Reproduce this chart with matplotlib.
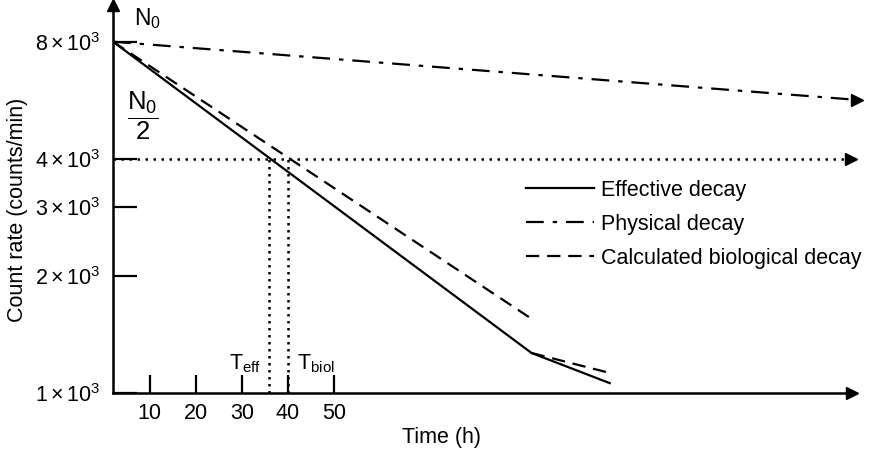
import matplotlib
matplotlib.use("Agg")
from matplotlib import pyplot as plt

plt.rcParams["font.family"] = ["Liberation Sans", "DejaVu Sans"]
plt.rcParams["mathtext.fontset"] = "custom"
plt.rcParams["mathtext.rm"] = "Liberation Sans"
plt.rcParams["mathtext.it"] = "Liberation Sans"

# data (time in h, count rate in counts/min)
effective_t = [2, 93, 110]
effective_n = [8000, 1267, 1060]

biological_t = [2, 92.4]
biological_n = [8000, 1568]
biological_tail_t = [93, 110]
biological_tail_n = [1267, 1126]

physical_t = [2, 163.7]
physical_n = [8000, 5670]

half_t = [2, 162.5]
half_n = [4000, 4000]

t_eff = 36
t_biol = 40

x_ticks = [10, 20, 30, 40, 50]
y_ticks = [1000, 2000, 3000, 4000, 8000]
y_labels = [r"$\mathrm{1\times10^{3}}$", r"$\mathrm{2\times10^{3}}$",
            r"$\mathrm{3\times10^{3}}$", r"$\mathrm{4\times10^{3}}$",
            r"$\mathrm{8\times10^{3}}$"]

fs = 15.5

fig = plt.figure(figsize=(8.77, 4.53), dpi=100)
W, H = 877, 453
left, right, bottom, top = 113, 852, 393, 5
ax = fig.add_axes([left / W, 1 - bottom / H, (right - left) / W, (bottom - top) / H])
ax.set_yscale("log")
ax.set_xlim(2, 2 + (right - left) / 4.6)
ax.set_ylim(1000, 1000 * 10 ** ((bottom - top) / 389))

lw = 1.6
ax.plot(effective_t, effective_n, color="black", lw=lw, label="Effective decay",
        solid_joinstyle="miter")
ax.plot(physical_t, physical_n, color="black", lw=lw, linestyle=(0, (8, 4, 2, 4)),
        label="Physical decay", clip_on=False)
ax.plot(biological_t, biological_n, color="black", lw=lw, linestyle=(0, (6, 3.5)),
        label="Calculated biological decay")
ax.plot(biological_tail_t, biological_tail_n, color="black", lw=lw, linestyle=(0, (6, 3.5)))
ax.plot(half_t, half_n, color="black", lw=1.8, linestyle=(0, (1, 2.2)), clip_on=False)
ax.plot([t_eff, t_eff], [1000, 4000], color="black", lw=1.8, linestyle=(0, (1, 1.8)))
ax.plot([t_biol, t_biol], [1000, 4000], color="black", lw=1.8, linestyle=(0, (1, 1.8)))

# arrow heads
ax.plot(physical_t[-1], physical_n[-1], marker=">", color="black", ms=8, clip_on=False)
ax.plot(half_t[-1], half_n[-1], marker=">", color="black", ms=8, clip_on=False)
ax.plot(1, 0, marker=">", color="black", ms=9, transform=ax.transAxes, clip_on=False)
ax.plot(0, 1, marker="^", color="black", ms=9, transform=ax.transAxes, clip_on=False)

for s in ["top", "right"]:
    ax.spines[s].set_visible(False)
for s in ["left", "bottom"]:
    ax.spines[s].set_linewidth(1.8)

ax.set_xticks(x_ticks)
ax.set_xticklabels([str(t) for t in x_ticks], fontsize=fs)
ax.set_yticks(y_ticks)
ax.set_yticklabels(y_labels, fontsize=fs)
ax.yaxis.set_minor_locator(matplotlib.ticker.NullLocator())
ax.tick_params(axis="x", direction="in", length=13, width=1.6, pad=7)
ax.tick_params(axis="y", direction="in", length=17, width=1.6, pad=9)

ax.text(9.4, 9200, r"$\mathrm{N_0}$", fontsize=fs + 1, ha="center", va="center")
ax.text(8.5, 5150, r"$\mathrm{\dfrac{N_0}{2}}$", fontsize=fs + 3, ha="center", va="center")
ax.text(30.7, 1190, r"$\mathrm{T_{eff}}$", fontsize=fs, ha="center", va="center")
ax.text(46.2, 1190, r"$\mathrm{T_{biol}}$", fontsize=fs, ha="center", va="center")

fig.text(18 / W, 1 - 210 / H, "Count rate (counts/min)", fontsize=fs,
         rotation=90, ha="center", va="center")
fig.text(442 / W, 1 - 437 / H, "Time (h)", fontsize=fs, ha="center", va="center")

fig.legend(loc="upper left", bbox_to_anchor=(526 / W, 1 - 180 / H), frameon=False,
           fontsize=fs, handlelength=3.15, handletextpad=0.33, labelspacing=0.6,
           borderpad=0, borderaxespad=0)

fig.savefig("out.png", dpi=100)
